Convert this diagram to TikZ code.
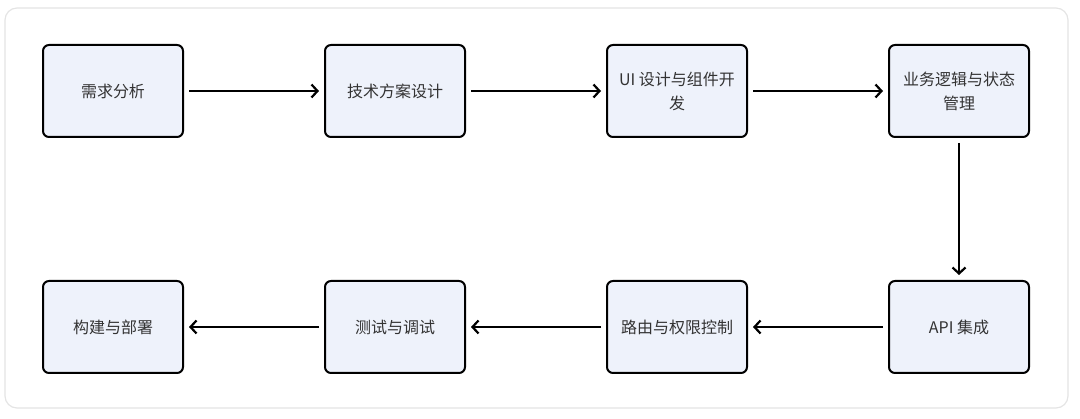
\documentclass[tikz,border=0pt]{standalone}
\usepackage{fontspec}
\setmainfont{Noto Sans CJK SC}
\usepackage{tikz}
\usetikzlibrary{positioning,arrows.meta}
\usepackage{xcolor}
\definecolor{boxfill}{HTML}{EEF2FB}
\definecolor{frameline}{HTML}{E4E4E4}
\definecolor{labeltext}{HTML}{333333}

\begin{document}
\begin{tikzpicture}[
    x=1pt, y=1pt,
    node distance=142pt and 140pt,
    stage/.style={draw=black, line width=2pt, fill=boxfill, rounded corners=6pt,
        minimum width=140pt, minimum height=92pt, align=center, text=labeltext,
        font=\fontsize{16}{24}\selectfont},
    flow/.style={line width=2.2pt, draw=black, shorten <=5pt, shorten >=5pt,
        -{Straight Barb[length=6pt,width=13pt,line width=2.2pt]}}
]
    % Canvas and outer frame
    \useasboundingbox (0,0) rectangle (1080,-419);
    \draw[frameline, line width=1.2pt, rounded corners=12pt] (5,-8) rectangle (1068,-408);

    % Top row (left to right)
    \node[stage] (needs) at (113,-91) {需求分析};
    \node[stage, right=of needs] (techplan) {技术方案设计};
    \node[stage, right=of techplan] (uidesign) {UI 设计与组件开\\发};
    \node[stage, right=of uidesign] (logic) {业务逻辑与状态\\管理};

    % Bottom row (right to left)
    \node[stage, below=of logic] (api) {API 集成};
    \node[stage, left=of api] (routing) {路由与权限控制};
    \node[stage, left=of routing] (testing) {测试与调试};
    \node[stage, left=of testing] (deploy) {构建与部署};

    % Connectors
    \draw[flow] (needs) -- (techplan);
    \draw[flow] (techplan) -- (uidesign);
    \draw[flow] (uidesign) -- (logic);
    \draw[flow] (logic) -- (api);
    \draw[flow] (api) -- (routing);
    \draw[flow] (routing) -- (testing);
    \draw[flow] (testing) -- (deploy);
\end{tikzpicture}
\end{document}
